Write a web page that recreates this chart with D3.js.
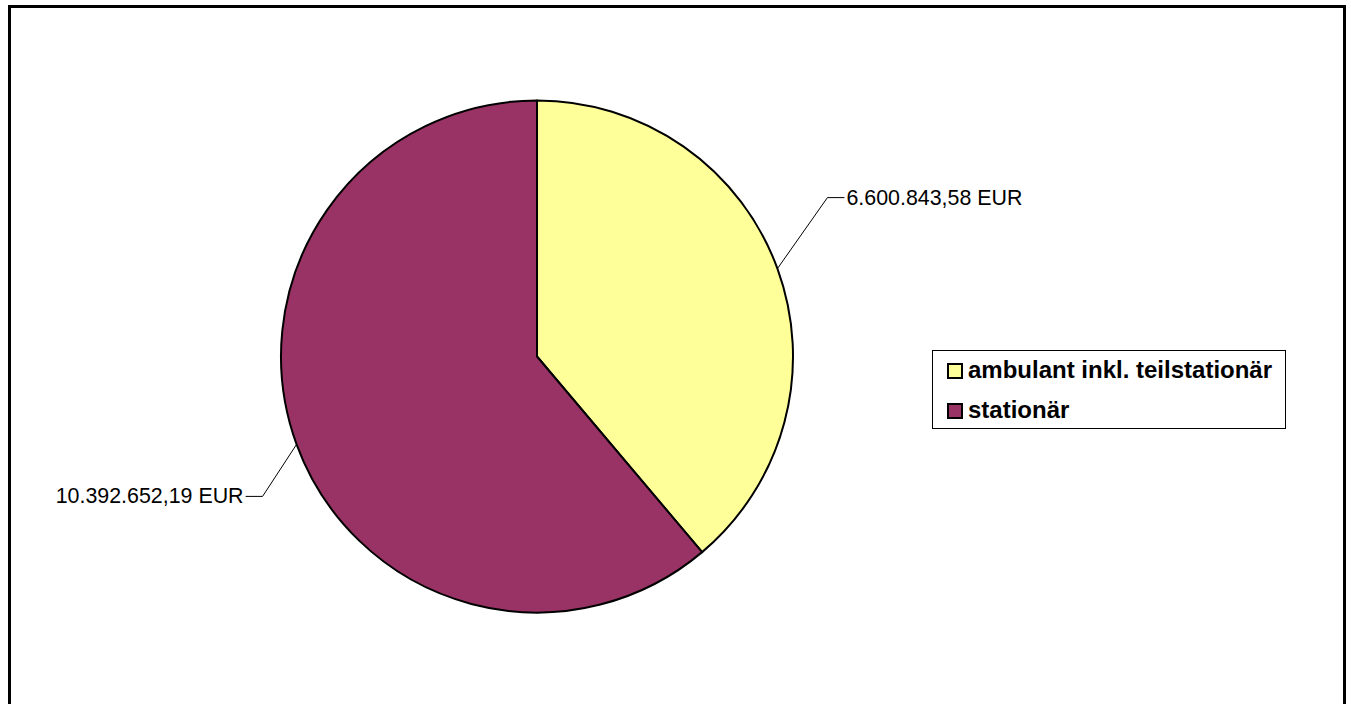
<!DOCTYPE html>
<html>
<head>
<meta charset="utf-8">
<script src="https://cdn.jsdelivr.net/npm/d3@7"></script>
<style>
  html, body { margin: 0; padding: 0; background: #fff; }
  svg { display: block; }
</style>
</head>
<body>
<svg id="chart" width="1351" height="704"></svg>
<script>
const categories = ["ambulant inkl. teilstationär", "stationär"];
const values = [6600843.58, 10392652.19];
const valueLabels = ["6.600.843,58 EUR", "10.392.652,19 EUR"];
const colors = ["#FFFF99", "#993366"];

const svg = d3.select("#chart");
const font = "'Liberation Sans', Arial, Helvetica, sans-serif";

// outer frame
svg.append("rect")
  .attr("x", 9.5).attr("y", 6.5)
  .attr("width", 1335).attr("height", 720)
  .attr("fill", "#fff").attr("stroke", "#000").attr("stroke-width", 3);

const cx = 537, cy = 356.5, r = 256;
const g = svg.append("g").attr("transform", `translate(${cx},${cy})`);

const pie = d3.pie().sort(null).value(d => d).startAngle(0).endAngle(2 * Math.PI);
const arcs = pie(values);
const arc = d3.arc().innerRadius(0).outerRadius(r);

g.selectAll("path.slice")
  .data(arcs)
  .enter().append("path")
  .attr("class", "slice")
  .attr("d", arc)
  .attr("fill", (d, i) => colors[i])
  .attr("stroke", "#000")
  .attr("stroke-width", 2)
  .attr("stroke-linejoin", "round");

// leader lines and labels
const elbowOffsets = [[50, -71], [-34, 52]];
const tickLen = 17;
arcs.forEach((d, i) => {
  const mid = (d.startAngle + d.endAngle) / 2;
  const ex = Math.sin(mid) * r, ey = -Math.cos(mid) * r;
  const bx = ex + elbowOffsets[i][0], by = ey + elbowOffsets[i][1];
  const side = bx > 0 ? 1 : -1;
  const hx = bx + side * tickLen;
  g.append("polyline")
    .attr("points", `${ex},${ey} ${bx},${by} ${hx},${by}`)
    .attr("fill", "none").attr("stroke", "#000").attr("stroke-width", 1);
  g.append("text")
    .attr("x", hx + side * 2)
    .attr("y", by + 7)
    .attr("text-anchor", side > 0 ? "start" : "end")
    .attr("font-family", font)
    .attr("font-size", 21.4)
    .attr("fill", "#000")
    .text(valueLabels[i]);
});

// legend
const lg = svg.append("g");
lg.append("rect")
  .attr("x", 932.5).attr("y", 350.5).attr("width", 353).attr("height", 78)
  .attr("fill", "#fff").attr("stroke", "#000").attr("stroke-width", 1);
categories.forEach((c, i) => {
  const y = 363 + i * 40;
  lg.append("rect")
    .attr("x", 948).attr("y", y + 1).attr("width", 14).attr("height", 14)
    .attr("fill", colors[i]).attr("stroke", "#000").attr("stroke-width", 2);
  lg.append("text")
    .attr("x", 968).attr("y", y + 15)
    .attr("font-family", font)
    .attr("font-size", 24)
    .attr("font-weight", "bold")
    .attr("fill", "#000")
    .text(c);
});
</script>
</body>
</html>
